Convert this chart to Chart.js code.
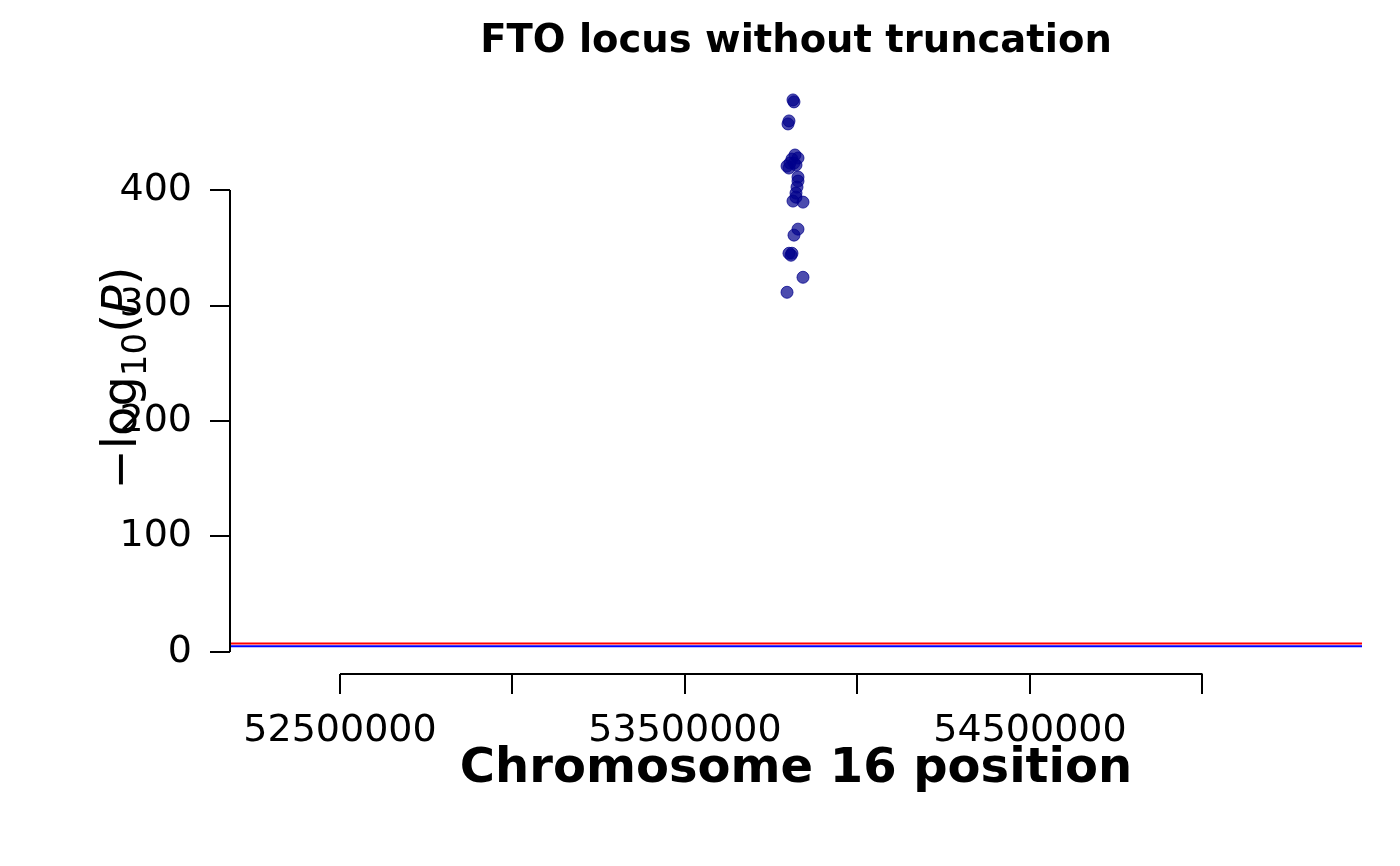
<!DOCTYPE html>
<html>
<head>
<meta charset="utf-8">
<script src="https://cdn.jsdelivr.net/npm/chart.js@4.4.1/dist/chart.umd.min.js"></script>
<style>
  html, body { margin: 0; padding: 0; background: #ffffff; }
  #c { display: block; }
</style>
</head>
<body>
<canvas id="c" width="1400" height="866"></canvas>
<script>
// ---- data ----
const chartTitle = "FTO locus without truncation";
const xAxisTitle = "Chromosome 16 position";
const positions = [
  53813000, 53815900, 53801400, 53798600, 53818800, 53827500, 53810100,
  53804300, 53815900, 53795700, 53801400, 53821700, 53827500, 53827500,
  53824600, 53821700, 53821700, 53813000, 53842000, 53827500, 53815900,
  53801400, 53807200, 53810100, 53842000, 53795700
];
const logP = [
  478.1, 476.4, 459.9, 457.3, 430.4, 427.8, 426.9,
  423.4, 423.4, 420.8, 419.1, 421.7, 411.3, 407.8,
  402.6, 397.4, 393.9, 390.5, 389.6, 366.2, 361.0,
  345.3, 343.6, 345.3, 324.5, 311.5
];
const xRange = [52181160, 55462319];
const yRange = [-19.12, 497.1];
const xTicks = [52500000, 53000000, 53500000, 54000000, 54500000, 55000000];
const xLabels = [52500000, 53500000, 54500000];
const yTicks = [0, 100, 200, 300, 400];
const genomeWideLine = 7.3;   // -log10(5e-8)
const suggestiveLine = 5;     // -log10(1e-5)

const FONT = "'DejaVu Sans', sans-serif";

const points = positions.map((x, i) => ({ x: x, y: logP[i] }));

const axisPlugin = {
  id: 'rAxes',
  afterDraw(chart) {
    const ctx = chart.ctx;
    const xs = chart.scales.x, ys = chart.scales.y;
    const area = chart.chartArea;
    ctx.save();
    ctx.strokeStyle = '#000';
    ctx.lineWidth = 2;
    // y axis line spans tick range
    ctx.beginPath();
    ctx.moveTo(area.left, ys.getPixelForValue(yTicks[0]));
    ctx.lineTo(area.left, ys.getPixelForValue(yTicks[yTicks.length - 1]));
    ctx.stroke();
    // x axis line spans tick range
    ctx.beginPath();
    ctx.moveTo(xs.getPixelForValue(xTicks[0]), area.bottom);
    ctx.lineTo(xs.getPixelForValue(xTicks[xTicks.length - 1]), area.bottom);
    ctx.stroke();

    // main title
    const cx = (area.left + area.right) / 2;
    ctx.fillStyle = '#000';
    ctx.textAlign = 'center';
    ctx.textBaseline = 'alphabetic';
    ctx.font = "bold 38.5px " + FONT;
    ctx.fillText(chartTitle, cx, 52);

    // y axis title: −log10(P)
    const cy = (area.top + area.bottom) / 2;
    const mainF = "48px " + FONT;
    const subF = "34px " + FONT;
    const itF = "oblique 48px " + FONT;
    const parts = [
      { t: "\u2212log", f: mainF, dy: 0 },
      { t: "10", f: subF, dy: 10 },
      { t: "(", f: mainF, dy: 0 },
      { t: "P", f: itF, dy: 0 },
      { t: ")", f: mainF, dy: 0 }
    ];
    let total = 0;
    parts.forEach(p => { ctx.font = p.f; p.w = ctx.measureText(p.t).width; total += p.w; });
    ctx.translate(136, cy + 2);
    ctx.rotate(-Math.PI / 2);
    ctx.textAlign = 'left';
    let pos = -total / 2;
    parts.forEach(p => {
      ctx.font = p.f;
      ctx.fillText(p.t, pos, p.dy);
      pos += p.w;
    });
    ctx.restore();
  }
};

new Chart(document.getElementById('c'), {
  type: 'scatter',
  data: {
    datasets: [
      {
        label: 'SNPs',
        data: points,
        pointRadius: 6,
        pointBackgroundColor: 'rgba(0,0,139,0.7)',
        pointBorderColor: 'rgba(0,0,139,0.75)',
        pointBorderWidth: 1,
        showLine: false
      },
      {
        label: 'suggestive',
        data: [{ x: xRange[0], y: suggestiveLine }, { x: xRange[1], y: suggestiveLine }],
        showLine: true,
        borderColor: '#0000ff',
        borderWidth: 2,
        pointRadius: 0
      },
      {
        label: 'genome-wide',
        data: [{ x: xRange[0], y: genomeWideLine }, { x: xRange[1], y: genomeWideLine }],
        showLine: true,
        borderColor: '#ff0000',
        borderWidth: 2,
        pointRadius: 0
      }
    ]
  },
  options: {
    responsive: false,
    animation: false,
    devicePixelRatio: 1,
    layout: { padding: { top: 78, right: 38, left: 0, bottom: 0 } },
    plugins: {
      legend: { display: false },
      tooltip: { enabled: false },
      title: { display: false }
    },
    scales: {
      x: {
        type: 'linear',
        min: xRange[0],
        max: xRange[1],
        afterBuildTicks(scale) { scale.ticks = xTicks.map(v => ({ value: v })); },
        afterFit(scale) { scale.height = 192; },
        border: { display: false },
        grid: { drawOnChartArea: false, drawTicks: true, tickLength: 20, color: '#000', lineWidth: 2 },
        ticks: {
          autoSkip: false,
          maxRotation: 0,
          padding: 14,
          color: '#000',
          font: { family: FONT, size: 38 },
          callback: v => (xLabels.includes(v) ? String(v) : '')
        },
        title: {
          display: true,
          text: xAxisTitle,
          color: '#000',
          font: { family: FONT, size: 48, weight: 'bold' },
          padding: { top: 0, bottom: 68 }
        }
      },
      y: {
        type: 'linear',
        min: yRange[0],
        max: yRange[1],
        afterBuildTicks(scale) { scale.ticks = yTicks.map(v => ({ value: v })); },
        afterFit(scale) { scale.width = 230; },
        border: { display: false },
        grid: { drawOnChartArea: false, drawTicks: true, tickLength: 20, color: '#000', lineWidth: 2 },
        ticks: {
          padding: 18,
          color: '#000',
          font: { family: FONT, size: 38 },
          callback: v => String(v)
        }
      }
    }
  },
  plugins: [axisPlugin]
});
</script>
</body>
</html>
